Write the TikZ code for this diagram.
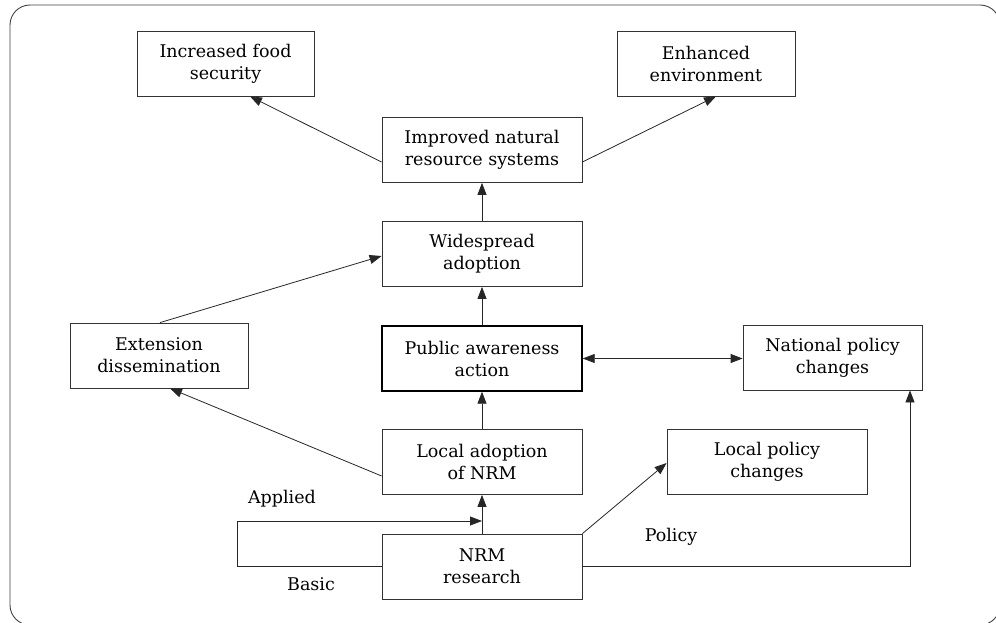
\documentclass[tikz,border=0pt]{standalone}
\usepackage{fontspec}
\setmainfont{DejaVu Serif}
\usetikzlibrary{arrows.meta,calc}
\begin{document}
\begin{tikzpicture}[x=1pt,y=-1pt,
  box/.style={draw=black!80,line width=0.8pt,minimum width=200pt,minimum height=65pt,
    align=center,inner sep=2pt,font=\fontsize{17.5}{22}\selectfont},
  conn/.style={draw=black!85,line width=0.8pt},
  arr/.style={conn,-{Triangle[length=12pt,width=9pt]}},
  arrb/.style={conn,{Triangle[length=12pt,width=9pt]}-{Triangle[length=12pt,width=9pt]}},
  lbl/.style={font=\fontsize{17.5}{22}\selectfont}]
\useasboundingbox (0,0) rectangle (996,623);
\draw[black!75,line width=0.9pt,rounded corners=20pt] (10,5) rectangle (1000,625);
\node[box,minimum width=177pt] (food) at (225.5,63.5) {Increased food\\security};
\node[box,minimum width=178pt] (env) at (706,63.5) {Enhanced\\environment};
\node[box] (improved) at (482,150) {Improved natural\\resource systems};
\node[box] (wide) at (482,254) {Widespread\\adoption};
\node[box,minimum width=178pt] (ext) at (159,355.5) {Extension\\dissemination};
\node[box,line width=1.4pt,draw=black] (pub) at (482,358.5) {Public awareness\\action};
\node[box,minimum width=179pt] (nat) at (832.5,357.5) {National policy\\changes};
\node[box] (locad) at (482,462) {Local adoption\\of NRM};
\node[box] (locpol) at (767,462) {Local policy\\changes};
\node[box] (nrm) at (482,566.5) {NRM\\research};
\coordinate (lp) at (237,521);
\coordinate (pt) at ($(nat.south)+(77.5,0)$);
\node[lbl] (applied) at (282,499) {Applied};
\node[lbl] (basic) at (311,584) {Basic};
\node[lbl] (policy) at (671,537) {Policy};
% connectors
\draw[arr] ($(improved.west)+(0,12)$) -- ($(food.south)+(24.5,0)$);
\draw[arr] ($(improved.east)+(0,12)$) -- ($(env.south)+(10,0)$);
\draw[arr] (wide) -- (improved);
\draw[arr] (pub) -- (wide);
\draw[arr] (locad) -- (pub);
\draw[arr] (nrm) -- (locad);
\draw[arr] ($(ext.north)+(1,0)$) -- ($(wide.west)+(0,2)$);
\draw[arr] ($(locad.west)+(0,14)$) -- ($(ext.south)+(11,0)$);
\draw[arrb] (pub.east) -- (pub.east -| nat.west);
\draw[arr] (nrm.north east) -- ($(locpol.west)+(0,1)$);
\draw[arr] (nrm.east) -| (pt);
\draw[arr] (nrm.west) -| (lp) -- (lp -| nrm.north);
\end{tikzpicture}
\end{document}
